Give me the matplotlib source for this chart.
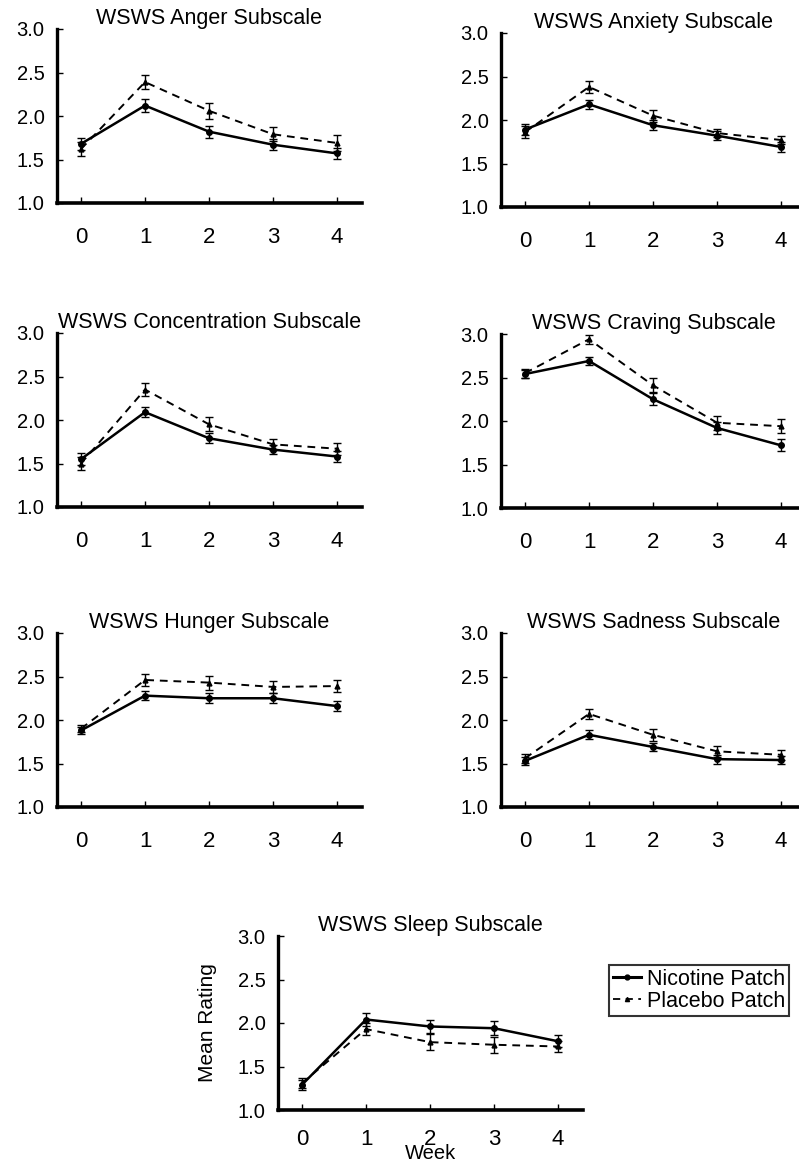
import matplotlib
matplotlib.use('Agg')
import matplotlib.pyplot as plt
from matplotlib.lines import Line2D

plt.rcParams['font.family'] = ['Liberation Sans', 'DejaVu Sans']

weeks = [0, 1, 2, 3, 4]

titles = ['WSWS Anger Subscale', 'WSWS Anxiety Subscale',
          'WSWS Concentration Subscale', 'WSWS Craving Subscale',
          'WSWS Hunger Subscale', 'WSWS Sadness Subscale',
          'WSWS Sleep Subscale']

# nicotine patch means / sem
nic_anger = [1.68, 2.12, 1.82, 1.67, 1.57]
nic_anger_err = [0.07, 0.07, 0.07, 0.06, 0.06]
nic_anxiety = [1.89, 2.18, 1.94, 1.82, 1.69]
nic_anxiety_err = [0.06, 0.05, 0.06, 0.05, 0.06]
nic_concentration = [1.55, 2.09, 1.79, 1.66, 1.58]
nic_concentration_err = [0.07, 0.06, 0.06, 0.05, 0.06]
nic_craving = [2.54, 2.69, 2.25, 1.92, 1.72]
nic_craving_err = [0.05, 0.05, 0.07, 0.07, 0.07]
nic_hunger = [1.88, 2.28, 2.25, 2.25, 2.16]
nic_hunger_err = [0.04, 0.05, 0.06, 0.06, 0.06]
nic_sadness = [1.53, 1.83, 1.69, 1.55, 1.54]
nic_sadness_err = [0.05, 0.05, 0.05, 0.05, 0.05]
nic_sleep = [1.29, 2.04, 1.96, 1.94, 1.79]
nic_sleep_err = [0.06, 0.08, 0.08, 0.08, 0.07]

# placebo patch means / sem
pla_anger = [1.62, 2.39, 2.06, 1.79, 1.69]
pla_anger_err = [0.08, 0.08, 0.09, 0.08, 0.09]
pla_anxiety = [1.86, 2.38, 2.05, 1.85, 1.77]
pla_anxiety_err = [0.07, 0.07, 0.07, 0.05, 0.05]
pla_concentration = [1.50, 2.35, 1.95, 1.72, 1.67]
pla_concentration_err = [0.07, 0.07, 0.08, 0.06, 0.07]
pla_craving = [2.55, 2.94, 2.41, 1.98, 1.94]
pla_craving_err = [0.05, 0.05, 0.08, 0.08, 0.08]
pla_hunger = [1.90, 2.46, 2.43, 2.38, 2.39]
pla_hunger_err = [0.04, 0.07, 0.08, 0.07, 0.07]
pla_sadness = [1.56, 2.07, 1.83, 1.64, 1.60]
pla_sadness_err = [0.05, 0.06, 0.07, 0.06, 0.06]
pla_sleep = [1.31, 1.93, 1.78, 1.75, 1.73]
pla_sleep_err = [0.06, 0.07, 0.09, 0.09, 0.06]

nic = [nic_anger, nic_anxiety, nic_concentration, nic_craving, nic_hunger, nic_sadness, nic_sleep]
nic_err = [nic_anger_err, nic_anxiety_err, nic_concentration_err, nic_craving_err,
           nic_hunger_err, nic_sadness_err, nic_sleep_err]
pla = [pla_anger, pla_anxiety, pla_concentration, pla_craving, pla_hunger, pla_sadness, pla_sleep]
pla_err = [pla_anger_err, pla_anxiety_err, pla_concentration_err, pla_craving_err,
           pla_hunger_err, pla_sadness_err, pla_sleep_err]

fig = plt.figure(figsize=(7.99, 11.64), dpi=100)

W, H = 1 / 799, 1 / 1164
# left spine x (px), bottom spine y (px)
spots = [(57, 203), (501, 207), (57, 507), (501, 508), (57, 807), (501, 807), (278, 1110)]
aw = 305 * W
ah = 174 * H
dash = (0, (4, 3))

for i, (px, py) in enumerate(spots):
    ax = fig.add_axes([px * W, 1 - py * H, aw, ah])
    ax.errorbar(weeks, nic[i], yerr=nic_err[i], color='black', lw=1.8, ls='-',
                marker='o', ms=4, capsize=3, elinewidth=1, capthick=1)
    ax.errorbar(weeks, pla[i], yerr=pla_err[i], color='black', lw=1.4, ls=dash,
                marker='^', ms=3.5, capsize=3, elinewidth=1, capthick=1)
    ax.set_xlim(-0.375, 4.39)
    ax.set_ylim(1.0, 3.0)
    ax.set_xticks(weeks)
    ax.set_yticks([1.0, 1.5, 2.0, 2.5, 3.0])
    ax.set_yticklabels(['1.0', '1.5', '2.0', '2.5', '3.0'])
    ax.spines['top'].set_visible(False)
    ax.spines['right'].set_visible(False)
    ax.spines['left'].set_linewidth(2.4)
    ax.spines['bottom'].set_linewidth(2.6)
    ax.tick_params(direction='in', length=4, width=1)
    ax.tick_params(axis='y', labelsize=14.5, pad=9)
    ax.tick_params(axis='x', labelsize=16, pad=17)
    ax.set_title(titles[i], fontsize=15.5, pad=1.5)
    ax.patch.set_alpha(0)
    if i == 6:
        ax.tick_params(axis='x', pad=14)
        ax.set_ylabel('Mean Rating', fontsize=15)
        ax.yaxis.set_label_coords(-0.20, 0.5)
        ax.set_xlabel('Week', fontsize=14.5, va='bottom')
        ax.xaxis.set_label_coords(0.5, -0.302)

handles = [Line2D([], [], color='black', lw=2.2, ls='-', marker='o', ms=3.5),
           Line2D([], [], color='black', lw=1.3, ls=dash, marker='^', ms=3)]
leg = fig.legend(handles, ['Nicotine Patch', 'Placebo Patch'], loc='upper left',
                 bbox_to_anchor=(609 * W, 1 - 965 * H), fontsize=15.5, frameon=True,
                 fancybox=False, handlelength=1.3, handletextpad=0.3,
                 borderpad=0.18, labelspacing=0.05, borderaxespad=0)
leg.get_frame().set_edgecolor('black')
leg.get_frame().set_linewidth(1.5)

fig.savefig('out.png', dpi=100)
